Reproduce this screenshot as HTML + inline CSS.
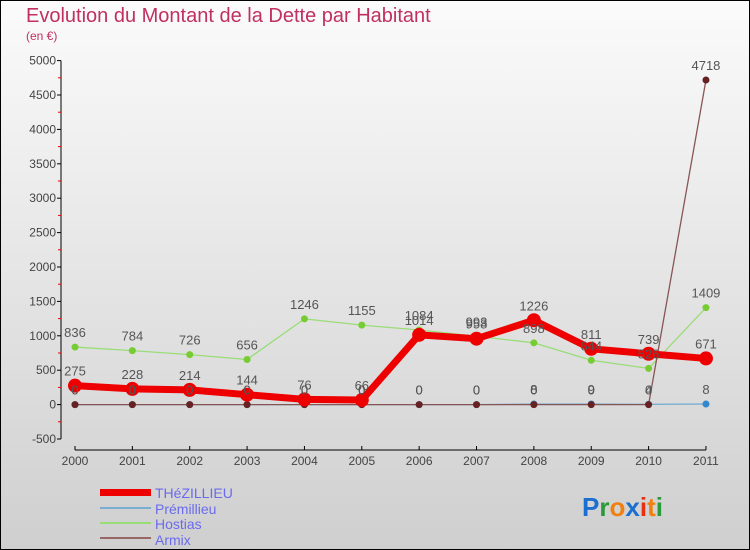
<!DOCTYPE html>
<html><head><meta charset="utf-8"><style>
body{margin:0}
svg{display:block;font-family:"Liberation Sans",sans-serif}
</style></head><body>
<svg width="750" height="550" viewBox="0 0 750 550" xmlns="http://www.w3.org/2000/svg">
<defs><linearGradient id="bg" x1="0" y1="0" x2="0" y2="1"><stop offset="0" stop-color="#fbfbfb"/><stop offset="1" stop-color="#cfcfcf"/></linearGradient></defs>
<rect x="0.5" y="0.5" width="749" height="549" fill="url(#bg)" stroke="#000"/>
<text x="26" y="22" font-size="20" fill="#c03060">Evolution du Montant de la Dette par Habitant</text>
<text x="26" y="40" font-size="12" fill="#c03060">(en €)</text>
<g id="axes"></g>
<g id="series"></g>
<g id="labels"></g>
<g>
<rect x="100" y="489" width="51" height="7" fill="#ee0000"/>
<text x="155" y="498" font-size="14" fill="#6a6aee">THéZILLIEU</text>
<rect x="100" y="507" width="51" height="2" fill="#7aaed0"/>
<text x="155" y="514" font-size="14" fill="#6a6aee">Prémillieu</text>
<rect x="100" y="522" width="51" height="2" fill="#99dd77"/>
<text x="155" y="529" font-size="14" fill="#6a6aee">Hostias</text>
<rect x="100" y="537" width="51" height="2" fill="#996666"/>
<text x="155" y="545" font-size="14" fill="#6a6aee">Armix</text>
</g>
<g font-size="26" font-weight="bold">
<text x="582" y="516"><tspan fill="#1a6fd0">P</tspan><tspan fill="#2a9a3a">r</tspan><tspan fill="#f08010">o</tspan><tspan fill="#1a6fd0">x</tspan><tspan fill="#e83010">i</tspan><tspan fill="#f08010">t</tspan><tspan fill="#2a9a3a">i</tspan></text>
</g>
</svg>
<script>
const years=["2000","2001","2002","2003","2004","2005","2006","2007","2008","2009","2010","2011"];
const yTicks=[-500,0,500,1000,1500,2000,2500,3000,3500,4000,4500,5000];
const thezillieu=[275,228,214,144,76,66,1014,958,1226,811,739,671];
const premillieu=[0,0,0,0,0,0,0,0,8,9,4,8];
const hostias=[836,784,726,656,1246,1155,1084,993,898,644,526,1409];
const armix=[0,0,0,0,0,0,0,0,0,0,0,4718];
const NS="http://www.w3.org/2000/svg";
const X=i=>75+i*57.36;
const Y=v=>404.6-v*0.0688;
function mk(tag,attrs,parent,txt){const e=document.createElementNS(NS,tag);for(const k in attrs)e.setAttribute(k,attrs[k]);if(txt!==undefined)e.textContent=txt;parent.appendChild(e);return e;}
const ax=document.getElementById('axes');
let e=mk('line',{x1:61,y1:Y(5000),x2:61,y2:Y(-500),stroke:'#000'},ax);


yTicks.forEach((v,k)=>{
 mk('line',{x1:57,x2:61,y1:Y(v),y2:Y(v),stroke:'#000'},ax);
 if(k<yTicks.length-1) mk('line',{x1:58,x2:61,y1:Y(v+250),y2:Y(v+250),stroke:'#e00'},ax);
 const t=mk('text',{x:56,y:Y(v)+4,'font-size':12,fill:'#444','text-anchor':'end'},ax,String(v));
 
 
});
e=mk('line',{x1:75,y1:450,x2:706,y2:450,stroke:'#000'},ax);


years.forEach((y,i)=>{
 mk('line',{x1:X(i),x2:X(i),y1:446,y2:450,stroke:'#000'},ax);
 const t=mk('text',{x:X(i),y:465,'font-size':12,fill:'#444','text-anchor':'middle'},ax,y);
 
 
});
const sg=document.getElementById('series'),lg=document.getElementById('labels');
function series(name,data,color,w,r,dot){
 const g=mk('g',{},sg);
 
 
 const p=mk('polyline',{points:data.map((v,i)=>X(i)+','+Y(v)).join(' '),fill:'none',stroke:color,'stroke-width':w,'stroke-linejoin':'round'},g);
 
 
 data.forEach((v,i)=>{
  const c=mk('circle',{cx:X(i),cy:Y(v),r:r,fill:dot},g);
  
  
  const t=mk('text',{x:X(i),y:Y(v)-10,'font-size':13,fill:'#555','text-anchor':'middle'},lg,String(v));
  
  
 });
}
series('hostias',hostias,'#99dd77',1.3,3.5,'#77cc33');
series('premillieu',premillieu,'#7aaed0',1.3,3.5,'#3388cc');
series('armix',armix,'#885555',1.3,3.5,'#662222');
series('thezillieu',thezillieu,'#ee0000',7,7,'#ee0000');
</script>
</body></html>
